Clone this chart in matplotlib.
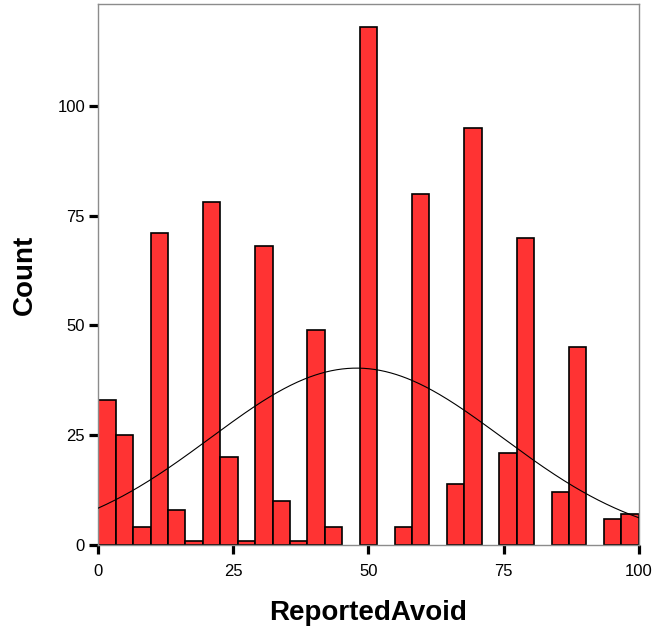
import numpy as np
import matplotlib.pyplot as plt

plt.rcParams['font.family'] = ['Liberation Sans', 'DejaVu Sans']

# histogram of ReportedAvoid: 31 equal bins over 0..100
bin_lo, bin_hi, n_bins = 0, 100, 31
counts = [33, 25, 4, 71, 8, 1, 78, 20, 1, 68, 10, 1, 49, 4, 0, 118,
          0, 4, 80, 0, 14, 95, 0, 21, 70, 0, 12, 45, 0, 6, 7]
# parameters of the fitted normal curve
fit_mean = 47.8
fit_sd = 27.0

x_ticks = [0, 25, 50, 75, 100]
y_ticks = [0, 25, 50, 75, 100]


def plot_hist(output_file):
    edges = np.linspace(bin_lo, bin_hi, n_bins + 1)
    width = edges[1] - edges[0]
    counts_arr = np.array(counts)
    keep = counts_arr > 0

    fig = plt.figure(figsize=(6.57, 6.41), dpi=100)
    ax = fig.add_axes([0.1496, 0.1498, 0.8225, 0.844])

    ax.bar(edges[:-1][keep], counts_arr[keep], width=width, align='edge',
           color='#ff3333', edgecolor='black', linewidth=1.2, zorder=2)

    # normal curve scaled to the counts
    xs = np.linspace(bin_lo, bin_hi, 400)
    total = counts_arr.sum()
    ys = total * width / (fit_sd * np.sqrt(2 * np.pi)) * np.exp(-0.5 * ((xs - fit_mean) / fit_sd) ** 2)
    ax.plot(xs, ys, color='black', linewidth=0.8, zorder=3)

    ax.set_xlim(bin_lo, bin_hi)
    ax.set_ylim(0, 123.2)
    ax.set_xticks(x_ticks)
    ax.set_yticks(y_ticks)
    ax.tick_params(direction='out', length=6.5, width=2.3, color='black',
                   labelsize=12)
    ax.tick_params(axis='x', pad=7.5)
    ax.tick_params(axis='y', pad=3)

    for side in ['left', 'right', 'top', 'bottom']:
        ax.spines[side].set_color('#8c8c8c')
        ax.spines[side].set_linewidth(1.0)

    ax.set_xlabel('ReportedAvoid', fontsize=20, fontweight='bold', labelpad=15)
    ax.set_ylabel('Count', fontsize=20, fontweight='bold', labelpad=14)

    fig.savefig(output_file, dpi=100)
    plt.close(fig)


if __name__ == "__main__":
    plot_hist('out.png')
